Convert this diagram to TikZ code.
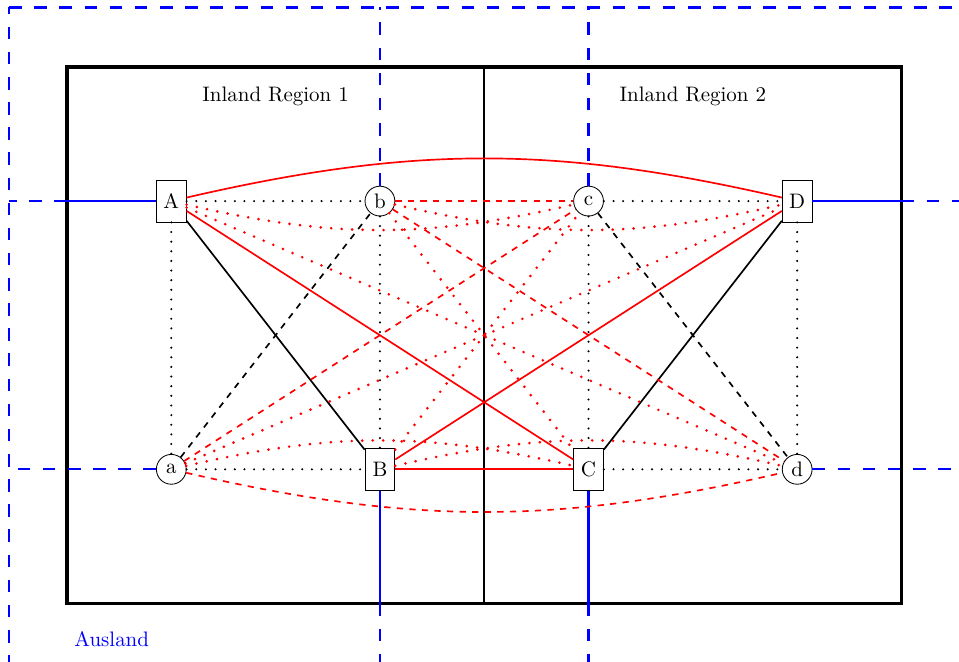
\documentclass[tikz,border=0pt]{standalone}
\usepackage{mathpazo}
\def\Xmax{14}
\def\Ymax{9}

\begin{document}
\begin{tikzpicture}[
    kasten/.style={draw,rectangle,minimum width=0.5cm,minimum height=0.7cm,inner sep=0pt},
    kreis/.style={draw,circle,minimum size=0.5cm,inner sep=0pt},
    rahmen/.style={line width=1.8pt},
    ausland/.style={blue,line width=1.1pt},
    auslanddash/.style={blue,line width=1.1pt,dash pattern=on 6pt off 6pt},
    schwarzdot/.style={line width=1.1pt,line cap=round,dash pattern=on 0pt off 4.6pt},
    rotvoll/.style={red,thick},
    rotdash/.style={red,thick,dashed},
    rotdot/.style={red,line width=1.4pt,line cap=round,dash pattern=on 0pt off 5pt}
  ]
    \useasboundingbox (-1.124,-0.973) rectangle (14.965,10.124);
    \clip (-1.124,-0.973) rectangle (14.965,10.124);
    % Ausland
    \coordinate (aus-sw) at (-0.97,-1.5);
    \coordinate (aus-nw) at (-0.97,10);
    \coordinate (aus-ne) at (16,10);
    \draw[auslanddash] (aus-sw) -- (aus-nw);
    \draw[auslanddash] (aus-nw) -- (aus-ne);
    \node[blue] (ausl) at (0.75,-0.6) {Ausland};
    % Inland
    \draw[rahmen] (0,0) rectangle (\Xmax,\Ymax);
    \draw[line width=1.2pt] (7,0) -- (7,\Ymax);
    \node (reg1) at (3.5,8.5) {Inland Region 1};
    \node (reg2) at (10.5,8.5) {Inland Region 2};
    % Knoten
    \node[kasten] (A) at (1.75,6.75) {A};
    \node[kreis] (b) at (5.25,6.75) {b};
    \node[kreis] (c) at (8.75,6.75) {c};
    \node[kasten] (D) at (12.25,6.75) {D};
    \node[kreis] (a) at (1.75,2.25) {a};
    \node[kasten] (B) at (5.25,2.25) {B};
    \node[kasten] (C) at (8.75,2.25) {C};
    \node[kreis] (d) at (12.25,2.25) {d};
    % Grenzpunkte
    \coordinate (A-in) at (0,6.75);     \coordinate (A-out) at (-0.97,6.75);
    \coordinate (D-in) at (\Xmax,6.75); \coordinate (D-out) at (16,6.75);
    \coordinate (B-in) at (5.25,0);     \coordinate (B-out) at (5.25,-1.5);
    \coordinate (C-in) at (8.75,0);     \coordinate (C-out) at (8.75,-1.5);
    \coordinate (b-out) at (5.25,10);   \coordinate (c-out) at (8.75,10);
    \coordinate (a-out) at (-0.97,2.25);\coordinate (d-out) at (16,2.25);
    % Verbindungen nach aussen
    \foreach \K in {A,D,B,C} {
        \draw[ausland] (\K) -- (\K-in);
        \draw[auslanddash] (\K-in) -- (\K-out);
    }
    \foreach \K in {a,b,c,d} {\draw[auslanddash] (\K) -- (\K-out);}
    % innerhalb der Regionen
    \draw[thick] (A) -- (B);
    \draw[thick] (D) -- (C);
    \draw[thick,dashed] (a) -- (b);
    \draw[thick,dashed] (c) -- (d);
    \foreach \S/\T in {A/b,A/a,a/B,b/B,c/D,c/C,C/d,D/d} {\draw[schwarzdot] (\S) -- (\T);}
    % zwischen den Regionen
    \draw[rotvoll] (A) to[bend left=13] (D);
    \draw[rotvoll] (A) -- (C);
    \draw[rotvoll] (B) -- (D);
    \draw[rotvoll] (B) -- (C);
    \draw[rotdash] (a) to[bend right=13] (d);
    \draw[rotdash] (a) -- (c);
    \draw[rotdash] (b) -- (d);
    \draw[rotdash] (b) -- (c);
    \draw[rotdot] (A) to[bend right=13] (c);
    \draw[rotdot] (b) to[bend right=13] (D);
    \draw[rotdot] (a) to[bend left=13] (C);
    \draw[rotdot] (B) to[bend left=13] (d);
    \foreach \S/\T in {A/d,a/D,b/C,B/c} {\draw[rotdot] (\S) -- (\T);}
\end{tikzpicture}
\end{document}
